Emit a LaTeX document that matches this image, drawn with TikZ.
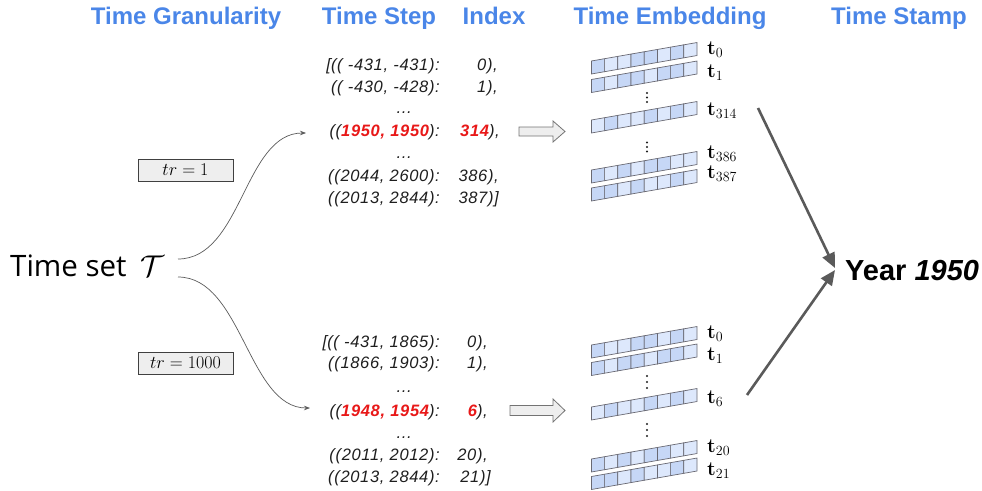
\RequirePackage{fix-cm}
\documentclass[tikz,border=0pt]{standalone}
\usepackage[no-math]{fontspec}
\setmainfont{Liberation Sans}
\newfontfamily\setfont{Open Sans}
\newfontfamily\listfont[LetterSpace=4]{Liberation Sans}
\usetikzlibrary{arrows.meta}

\definecolor{hdrblue}{RGB}{74,134,232}
\definecolor{kred}{RGB}{232,24,24}
\definecolor{txt}{RGB}{30,30,30}
\definecolor{embdark}{RGB}{198,215,246}
\definecolor{emblight}{RGB}{221,232,252}
\definecolor{celledge}{RGB}{105,105,115}
\definecolor{boxfill}{RGB}{238,238,238}
\definecolor{arrowgray}{RGB}{90,90,90}

% one embedding vector: 8 slanted cells, #1 = y of the upper right corner, #2 = shade pattern
\newcommand\embrow[2]{%
  \foreach \c [count=\i from 0] in {#2} {%
    \pgfmathsetmacro\xa{591.4+\i*13.2}%
    \pgfmathsetmacro\ya{#1+31.5-\i*2.31}%
    \ifnum\c=1\relax\def\fc{embdark}\else\def\fc{emblight}\fi
    \filldraw[cell,fill=\fc] (\xa,\ya) -- ++(13.2,-2.31) -- ++(0,-13) -- ++(-13.2,2.31) -- cycle;
  }}
% vertical ellipsis made of three dots
\newcommand\vdotsat[3]{%
  \foreach \k in {-1,0,1} \fill[txt] (#1,#2+\k*#3) circle (1.1pt);}

\begin{document}
\begin{tikzpicture}[x=1pt,y=-1pt,
  hdr/.style={anchor=base,inner sep=0,text=hdrblue,font=\fontsize{24}{24}\selectfont\bfseries},
  lst/.style={inner sep=0,text=txt,font=\listfont\itshape\fontsize{16.5}{17}\selectfont},
  lkey/.style={lst,anchor=base east},
  lidx/.style={lst,anchor=base east},
  trbox/.style={draw=black!75,fill=boxfill,line width=0.8pt,minimum width=95pt,minimum height=22pt,
    inner sep=0,font=\fontsize{18}{18}\selectfont},
  cell/.style={draw=celledge,line width=0.7pt},
  tlab/.style={anchor=base west,inner sep=0,font=\fontsize{20}{20}\selectfont},
  flow/.style={draw=arrowgray,line width=0.7pt,-{Stealth[length=6pt,width=4.5pt]}},
  hollow/.style={draw=black!55,fill=boxfill,line width=0.8pt},
  bigarrow/.style={draw=arrowgray,line width=2.6pt,-{Triangle[length=15pt,width=13pt]}}
]
\path[use as bounding box] (0,0) rectangle (982,490);

% column headings
\node[hdr] (hgran)  at (186,24) {Time Granularity};
\node[hdr] (hstep)  at (379,24) {Time Step};
\node[hdr] (hidx)   at (494,24) {Index};
\node[hdr] (hemb)   at (670,24) {Time Embedding};
\node[hdr] (hstamp) at (899,24) {Time Stamp};

% the time set
\node[anchor=base west,inner sep=0,font=\setfont\fontsize{29.5}{30}\selectfont] (tset) at (10,276) {Time set};
\node[anchor=base west,inner sep=0,font=\fontsize{30}{30}\selectfont] (calT) at (140,276) {$\mathcal{T}$};

% granularities
\node[trbox] (tr1) at (185.5,170) {$tr=1$};
\node[trbox] (tr2) at (185.5,363) {$tr=1000$};

% ---- upper list (tr = 1)
\node[lkey] (ka0) at (440,70)  {\llap{[}(( -431, -431):};
\node[lidx] (ia0) at (498,70)  {0),};
\node[lkey] (ka1) at (440,92)  {(( -430, -428):};
\node[lidx] (ia1) at (498,92)  {1),};
\node[lst,anchor=base] (da1) at (404,113) {…};
\node[lkey] (ka2) at (440,136) {((\textcolor{kred}{\bfseries 1950, 1950}):};
\node[lidx] (ia2) at (500,136) {\textcolor{kred}{\bfseries 314}),};
\node[lst,anchor=base] (da2) at (404,158) {…};
\node[lkey] (ka3) at (440,181) {((2044, 2600):};
\node[lidx] (ia3) at (499,181) {386),};
\node[lkey] (ka4) at (440,203) {((2013, 2844):};
\node[lidx] (ia4) at (499,203) {387)]};

% ---- lower list (tr = 1000)
\node[lkey] (kb0) at (440,347) {\llap{[}(( -431, 1865):};
\node[lidx] (ib0) at (488,347) {0),};
\node[lkey] (kb1) at (440,368) {((1866, 1903):};
\node[lidx] (ib1) at (488,368) {1),};
\node[lst,anchor=base] (db1) at (404,392) {…};
\node[lkey] (kb2) at (440,416) {((\textcolor{kred}{\bfseries 1948, 1954}):};
\node[lidx] (ib2) at (488,416) {\textcolor{kred}{\bfseries 6}),};
\node[lst,anchor=base] (db2) at (404,438) {…};
\node[lkey] (kb3) at (440,460) {((2011, 2012):};
\node[lidx] (ib3) at (488,460) {20),};
\node[lkey] (kb4) at (440,482) {((2013, 2844):};
\node[lidx] (ib4) at (491,482) {21)]};

% branches from the time set to the two lists
\coordinate (src1) at (178,259);
\coordinate (src2) at (178,277);
\coordinate (in1) at (306,133);
\coordinate (in2) at (310,408);
\draw[flow] (src1) .. controls (242,259) and (244,133) .. (in1);
\draw[flow] (src2) .. controls (242,277) and (248,408) .. (in2);

% block arrows from the lists to the embeddings
\filldraw[hollow] (519,127) -- (553,127) -- (553,121) -- (565,131.5) -- (553,142) -- (553,136) -- (519,136) -- cycle;
\filldraw[hollow] (510,405.5) -- (553,405.5) -- (553,399) -- (565,410.5) -- (553,422) -- (553,415.5) -- (510,415.5) -- cycle;

% ---- upper embedding table
\embrow{42.5}{1,0,0,1,1,0,1,0}
\embrow{61}{1,0,1,1,0,1,1,0}
\vdotsat{647}{97.5}{4.5}
\embrow{101.5}{0,1,0,0,1,0,1,0}
\vdotsat{647}{147}{4.5}
\embrow{151.5}{1,0,1,0,1,1,0,0}
\embrow{169.5}{1,1,0,1,0,0,1,0}
\node[tlab] (ta0)   at (707,54)  {$\mathbf{t}_{0}$};
\node[tlab] (ta1)   at (707,77)  {$\mathbf{t}_{1}$};
\node[tlab] (ta314) at (707,115) {$\mathbf{t}_{314}$};
\node[tlab] (ta386) at (707,158) {$\mathbf{t}_{386}$};
\node[tlab] (ta387) at (707,178) {$\mathbf{t}_{387}$};

% ---- lower embedding table
\embrow{326.5}{1,0,0,1,1,0,1,0}
\embrow{344}{1,0,1,1,0,1,1,0}
\vdotsat{647}{382}{6}
\embrow{388.5}{0,1,0,0,1,0,1,0}
\vdotsat{647}{430}{6}
\embrow{440.5}{1,0,1,0,1,1,0,0}
\embrow{458}{1,1,0,1,0,0,1,0}
\node[tlab] (tb0)  at (707,338) {$\mathbf{t}_{0}$};
\node[tlab] (tb1)  at (707,360) {$\mathbf{t}_{1}$};
\node[tlab] (tb6)  at (707,403) {$\mathbf{t}_{6}$};
\node[tlab] (tb20) at (707,452) {$\mathbf{t}_{20}$};
\node[tlab] (tb21) at (707,475) {$\mathbf{t}_{21}$};

% resulting time stamp
\node[anchor=base west,inner sep=0,font=\fontsize{29}{30}\selectfont\bfseries] (year) at (845,280) {Year \textit{1950}};
\coordinate (e1) at (758,108);
\coordinate (e2) at (747,395);
\draw[bigarrow] (e1) -- ([xshift=-10pt,yshift=2pt]year.west);
\draw[bigarrow] (e2) -- ([xshift=-10pt]year.west);
\end{tikzpicture}
\end{document}
